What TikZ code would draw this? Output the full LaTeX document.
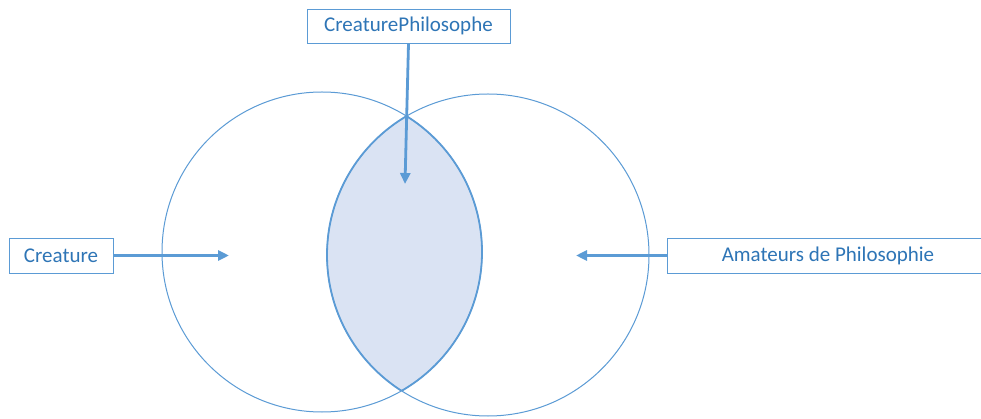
\documentclass[tikz,border=0pt]{standalone}
\usepackage{fontspec}
\setmainfont{Carlito}
\usetikzlibrary{arrows.meta}
\definecolor{lineblue}{HTML}{5B9BD5}
\definecolor{textblue}{HTML}{2E75B6}
\definecolor{lensfill}{HTML}{DAE3F3}
\begin{document}
\begin{tikzpicture}[x=1pt,y=-1pt,
  lbl/.style={draw=lineblue,line width=0.9pt,fill=white,text=textblue,
    font=\fontsize{21}{24}\selectfont,inner sep=0pt,minimum height=35pt,anchor=center},
  setc/.style={draw=lineblue,line width=1pt,circle,inner sep=0pt},
  conn/.style={draw=lineblue,line width=2.8pt,-{Triangle[length=11pt,width=10pt]}}]
\clip (0,0) rectangle (981,419);
\fill[white] (0,0) rectangle (981,419);
% lens fill
\begin{scope}
  \clip (322,252) circle[radius=160];
  \fill[lensfill] (488,255) circle[radius=161];
\end{scope}
\node[setc,minimum size=320pt] (A) at (322,252) {};
\node[setc,minimum size=322pt] (B) at (488,255) {};
\begin{scope}
  \clip (322,252) circle[radius=160];
  \draw[lineblue,line width=1.8pt] (488,255) circle[radius=161];
\end{scope}
\begin{scope}
  \clip (488,255) circle[radius=161];
  \draw[lineblue,line width=1.8pt] (322,252) circle[radius=160];
\end{scope}
\node[lbl,minimum width=203pt,minimum height=34pt] (top) at (408.5,26) {CreaturePhilosophe};
\node[lbl,minimum width=104pt] (cre) at (61,255.5) {Creature};
\node[lbl,minimum width=322pt] (ama) at (828,255.5) {Amateurs de Philosophie};
\coordinate (tipT) at (405,184);
\coordinate (tipL) at (229,255.5);
\coordinate (tipR) at (576,255.5);
\draw[conn] (top.south) -- (tipT);
\draw[conn] (cre.east) -- (tipL);
\draw[conn] (ama.west) -- (tipR);
\end{tikzpicture}
\end{document}
